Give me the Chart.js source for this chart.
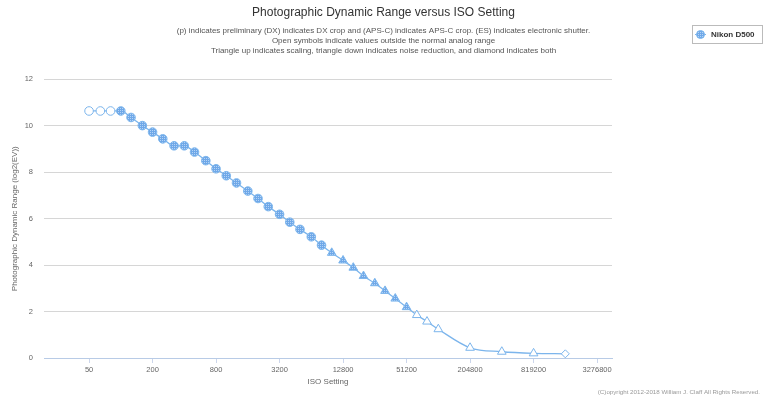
<!DOCTYPE html>
<html>
<head>
<meta charset="utf-8">
<script src="https://cdn.jsdelivr.net/npm/chart.js@4.4.0/dist/chart.umd.min.js"></script>
<style>
  html, body { margin: 0; padding: 0; background: #fff; }
  #wrap { position: relative; width: 767px; height: 398px; }
</style>
</head>
<body>
<div id="wrap"><canvas id="chartDR" width="767" height="398"></canvas></div>
<script>
// ISO settings (1/3 stop steps) and photographic dynamic range, Nikon D500
const isoValues = [50, 64, 80, 100, 125, 160, 200, 250, 320, 400, 500, 640, 800, 1000, 1250, 1600,
  2000, 2500, 3200, 4000, 5000, 6400, 8000, 10000, 12800, 16000, 20000, 25600, 32000, 40000,
  51200, 64000, 80000, 102400, 204800, 409600, 819200, 1638400];
const drValues = [10.64, 10.64, 10.64, 10.64, 10.36, 10.01, 9.73, 9.44, 9.14, 9.14, 8.87, 8.50,
  8.15, 7.85, 7.54, 7.19, 6.87, 6.52, 6.19, 5.85, 5.54, 5.22, 4.86, 4.53, 4.20, 3.89, 3.53, 3.22,
  2.89, 2.56, 2.19, 1.85, 1.57, 1.24, 0.44, 0.27, 0.20, 0.18];
const markerShapes = [
  'circle', 'circle', 'circle', 'circle', 'circle', 'circle', 'circle', 'circle', 'circle', 'circle',
  'circle', 'circle', 'circle', 'circle', 'circle', 'circle', 'circle', 'circle', 'circle', 'circle',
  'circle', 'circle', 'circle',
  'triangle', 'triangle', 'triangle', 'triangle', 'triangle', 'triangle', 'triangle', 'triangle',
  'triangle', 'triangle', 'triangle', 'triangle', 'triangle', 'triangle',
  'rectRot'];
// open symbol = outside the normal analog range
const openMarkers = [true, true, true, false, false, false, false, false, false, false, false, false,
  false, false, false, false, false, false, false, false, false, false, false, false, false, false,
  false, false, false, false, false, true, true, true, true, true, true, true];
const isoTicks = [50, 200, 800, 3200, 12800, 51200, 204800, 819200, 3276800];
const seriesName = 'Nikon D500';

const blue = '#7cb5ec';

// hatched fill like the original markers
function makeHatch() {
  const c = document.createElement('canvas');
  c.width = 4; c.height = 4;
  const g = c.getContext('2d');
  g.fillStyle = '#6fa8e8';
  g.fillRect(0, 0, 4, 4);
  g.fillStyle = '#b3d3f6';
  g.fillRect(0, 0, 1, 1); g.fillRect(2, 2, 1, 1);
  g.fillRect(2, 0, 1, 1); g.fillRect(0, 2, 1, 1);
  return c;
}

Chart.defaults.font.family = "'Liberation Sans', Arial, sans-serif";
Chart.defaults.color = '#666';

const ctx = document.getElementById('chartDR');
const hatch = ctx.getContext('2d').createPattern(makeHatch(), 'repeat');

const extras = {
  id: 'extras',
  afterDraw(chart) {
    const g = chart.ctx;
    g.save();
    // legend box
    g.strokeStyle = '#bbbbbb';
    g.lineWidth = 1;
    g.strokeRect(692.5, 25.5, 70, 18);
    g.strokeStyle = blue;
    g.beginPath(); g.moveTo(695, 34.5); g.lineTo(706, 34.5); g.stroke();
    g.fillStyle = hatch;
    g.beginPath(); g.arc(700.5, 34.5, 4, 0, Math.PI * 2); g.fill(); g.stroke();
    g.fillStyle = '#333';
    g.font = "bold 8px 'Liberation Sans', Arial, sans-serif";
    g.textBaseline = 'middle';
    g.fillText(seriesName, 711, 35);
    // copyright
    g.fillStyle = '#999';
    g.font = "6.2px 'Liberation Sans', Arial, sans-serif";
    g.textAlign = 'right';
    g.fillText('(C)opyright 2012-2018 William J. Claff All Rights Reserved.', 760, 392);
    g.restore();
  }
};

new Chart(ctx, {
  type: 'line',
  data: {
    labels: isoValues,
    datasets: [{
      label: seriesName,
      data: isoValues.map((iso, i) => ({ x: iso, y: drValues[i] })),
      borderColor: blue,
      borderWidth: 1.3,
      cubicInterpolationMode: 'monotone',
      pointStyle: markerShapes,
      pointRadius: markerShapes.map(s => s === 'circle' ? 4.3 : (s === 'triangle' ? 5 : 4)),
      pointBorderWidth: 1,
      pointBorderColor: blue,
      pointBackgroundColor: openMarkers.map(o => o ? '#ffffff' : hatch)
    }]
  },
  options: {
    responsive: false,
    animation: false,
    layout: { padding: { left: 0, right: 0, top: 0, bottom: 7 } },
    plugins: {
      legend: { display: false },
      tooltip: { enabled: false },
      title: {
        display: true,
        text: 'Photographic Dynamic Range versus ISO Setting',
        color: '#333',
        font: { size: 12, weight: 'normal' },
        padding: { top: 5, bottom: 6 }
      },
      subtitle: {
        display: true,
        text: [
          '(p) indicates preliminary (DX) indicates DX crop and (APS-C) indicates APS-C crop. (ES) indicates electronic shutter.',
          'Open symbols indicate values outside the normal analog range',
          'Triangle up indicates scaling, triangle down indicates noise reduction, and diamond indicates both'
        ],
        color: '#555',
        font: { size: 8, lineHeight: 1.25 },
        padding: { top: 0, bottom: 24 }
      }
    },
    scales: {
      x: {
        type: 'logarithmic',
        min: 18.7,
        max: 4540000,
        afterBuildTicks: (scale) => { scale.ticks = isoTicks.map(v => ({ value: v })); },
        afterFit: (scale) => { scale.height = 33; },
        border: { color: '#b8cbe6', dash: [2, 2] },
        grid: { drawOnChartArea: false, color: '#ccd6eb', tickLength: 5 },
        ticks: {
          autoSkip: false, maxRotation: 0, padding: 2, color: '#666',
          font: { size: 7.5 },
          callback: (v) => String(v)
        },
        title: { display: true, text: 'ISO Setting', color: '#666', font: { size: 8 }, padding: { top: 2 } }
      },
      y: {
        min: 0,
        max: 12,
        afterFit: (scale) => { scale.width = 44; },
        border: { display: false },
        grid: {
          drawTicks: false,
          color: (c) => c.tick && c.tick.value % 2 === 0 ? '#d6d6d6' : '#e8e8e8'
        },
        ticks: {
          stepSize: 1, padding: 11, color: '#666',
          font: { size: 7.5 },
          callback: (v) => v % 2 === 0 ? String(v) : null
        },
        title: {
          display: true, text: 'Photographic Dynamic Range (log2(EV))',
          color: '#666', font: { size: 8 }, padding: { top: 10, bottom: 4 }
        }
      },
      // empty right-hand box that keeps the plot clear of the legend
      spacer: {
        type: 'linear',
        position: 'right',
        display: true,
        afterFit: (scale) => { scale.width = 155; },
        border: { display: false },
        grid: { display: false },
        ticks: { display: false }
      }
    }
  },
  plugins: [extras]
});
</script>
</body>
</html>
